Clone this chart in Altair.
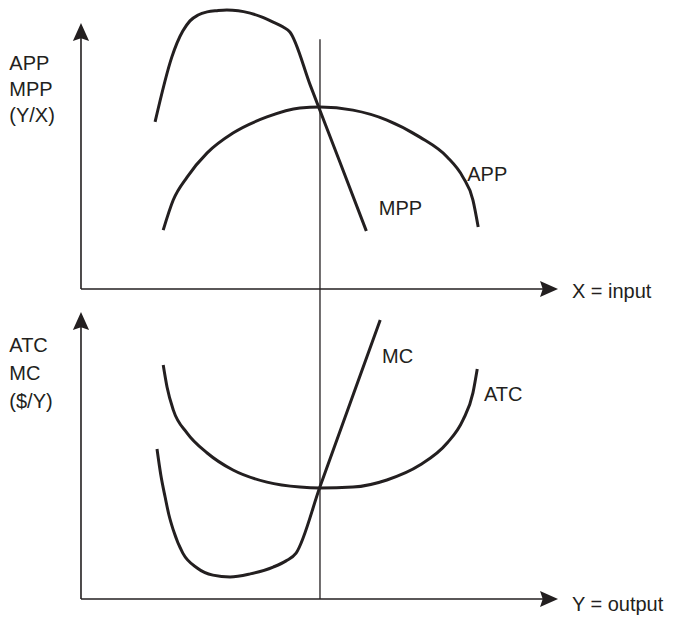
import altair as alt
import pandas as pd

# ---- top panel (input side), in panel units: x = input, y = Y/X ----
app_x = [1.72, 1.93, 2.22, 2.64, 3.18, 3.89, 4.58, 5.00, 5.69, 6.40, 7.09, 7.66, 7.99, 8.20, 8.31]
app_y = [1.90, 2.87, 3.61, 4.39, 5.03, 5.55, 5.84, 5.87, 5.77, 5.45, 4.90, 4.26, 3.61, 2.87, 2.00]
mpp_x = [1.55, 1.90, 2.01, 2.13, 2.28, 2.45, 2.64, 2.85, 3.05, 3.29, 3.54, 3.79, 4.02, 4.23, 4.37, 4.80, 5.40, 5.97]
mpp_y = [5.39, 7.48, 7.94, 8.32, 8.65, 8.84, 8.94, 8.98, 9.00, 8.98, 8.90, 8.77, 8.61, 8.45, 8.29, 6.56, 4.16, 1.87]

# ---- bottom panel (output side), in panel units: x = output, y = $/Y ----
atc_x = [1.72, 1.80, 1.93, 2.22, 2.64, 3.18, 3.89, 4.58, 5.00, 5.69, 6.40, 7.09, 7.66, 7.99, 8.20, 8.29]
atc_y = [7.55, 6.84, 6.10, 5.35, 4.71, 4.16, 3.77, 3.61, 3.58, 3.61, 3.84, 4.32, 5.03, 5.77, 6.65, 7.42]
mc_x = [1.59, 1.67, 1.76, 1.84, 1.93, 2.13, 2.43, 2.76, 3.12, 3.54, 4.02, 4.29, 4.50, 5.00, 5.70, 6.26]
mc_y = [4.84, 4.00, 3.29, 2.71, 2.23, 1.48, 1.00, 0.77, 0.71, 0.81, 1.03, 1.23, 1.48, 3.62, 6.61, 9.00]

# panel offsets (top panel sits above the bottom one)
panel_offset = {"top": 10.0, "bottom": 0.0}

# axis extents per panel: (y-arrow tip, x-arrow tip)
axis_panels = ["top", "bottom"]
y_arrow_tip = [8.58, 9.26]
x_arrow_tip = [9.98, 9.98]

# optimum point: vertical guide
guide_x = 5.0
guide_top = 8.06  # in top-panel units

# y-axis titles
ytitle_top = ["APP", "MPP", "(Y/X)"]
ytitle_top_y = [7.26, 6.42, 5.58]
ytitle_bot = ["ATC", "MC", "($/Y)"]
ytitle_bot_y = [8.16, 7.26, 6.35]
ytitle_x = -1.50

# curve / axis labels: text, x, y, panel
lab_text = ["APP", "MPP", "MC", "ATC", "X = input", "Y = output"]
lab_x = [8.08, 6.23, 6.30, 8.43, 10.27, 10.27]
lab_y = [3.68, 2.58, 7.81, 6.58, -0.10, -0.20]
lab_panel = ["top", "top", "bottom", "bottom", "top", "bottom"]

INK = "#231f20"
FONT = "Liberation Sans"
FS = 20

# ---------------- build tables ----------------
rows = []
for name, xs_, ys_, p in [("APP", app_x, app_y, "top"), ("MPP", mpp_x, mpp_y, "top"),
                         ("ATC", atc_x, atc_y, "bottom"), ("MC", mc_x, mc_y, "bottom")]:
    for i, (a, b) in enumerate(zip(xs_, ys_)):
        rows.append({"curve": name, "i": i, "x": a, "y": b + panel_offset[p]})
curves = pd.DataFrame(rows)

ax_rows, arrow_rows = [], []
for p, yt, xt in zip(axis_panels, y_arrow_tip, x_arrow_tip):
    o = panel_offset[p]
    ax_rows.append({"x": 0, "y": o, "x2": 0, "y2": o + yt - 0.3})
    ax_rows.append({"x": 0, "y": o, "x2": xt - 0.2, "y2": o})
    arrow_rows.append({"x": 0, "y": o + yt, "angle": 0})
    arrow_rows.append({"x": xt, "y": o, "angle": 90})
axes_df = pd.DataFrame(ax_rows)
arrows_df = pd.DataFrame(arrow_rows)

guide_df = pd.DataFrame([{"x": guide_x, "y": 0.0, "x2": guide_x, "y2": guide_top + panel_offset["top"]}])

txt_rows = []
for t, yy in zip(ytitle_top, ytitle_top_y):
    txt_rows.append({"t": t, "x": ytitle_x, "y": yy + panel_offset["top"]})
for t, yy in zip(ytitle_bot, ytitle_bot_y):
    txt_rows.append({"t": t, "x": ytitle_x, "y": yy + panel_offset["bottom"]})
for t, xx, yy, p in zip(lab_text, lab_x, lab_y, lab_panel):
    txt_rows.append({"t": t, "x": xx, "y": yy + panel_offset[p]})
text_df = pd.DataFrame(txt_rows)

xs = alt.Scale(domain=[-1.527, 12.218], nice=False, zero=False)
ys = alt.Scale(domain=[-0.613, 19.065], nice=False, zero=False)

curve_layer = alt.Chart(curves).mark_line(
    strokeWidth=3, color=INK, strokeCap="butt", strokeJoin="round", interpolate="monotone"
).encode(
    x=alt.X("x:Q", scale=xs, axis=None),
    y=alt.Y("y:Q", scale=ys, axis=None),
    detail="curve:N",
    order="i:Q",
)

axes_layer = alt.Chart(axes_df).mark_rule(strokeWidth=1.6, color=INK).encode(
    x=alt.X("x:Q", scale=xs, axis=None), y=alt.Y("y:Q", scale=ys, axis=None),
    x2="x2:Q", y2="y2:Q",
)

guide_layer = alt.Chart(guide_df).mark_rule(strokeWidth=1.3, color=INK).encode(
    x=alt.X("x:Q", scale=xs, axis=None), y=alt.Y("y:Q", scale=ys, axis=None),
    x2="x2:Q", y2="y2:Q",
)

arrow_layer = alt.Chart(arrows_df).mark_point(
    shape="M0,0 L0.45,1 L0,0.85 L-0.45,1 Z", filled=True, size=1296, opacity=1, color=INK
).encode(
    x=alt.X("x:Q", scale=xs, axis=None), y=alt.Y("y:Q", scale=ys, axis=None),
    angle=alt.Angle("angle:Q", scale=None),
)

text_layer = alt.Chart(text_df).mark_text(
    align="left", baseline="middle", font=FONT, fontSize=FS, color=INK
).encode(
    x=alt.X("x:Q", scale=xs, axis=None), y=alt.Y("y:Q", scale=ys, axis=None),
    text="t:N",
)

chart = alt.layer(guide_layer, axes_layer, curve_layer, arrow_layer, text_layer).properties(
    width=657, height=610, padding=0,
    autosize=alt.AutoSizeParams(type="none"),
    background="white",
).configure_view(stroke=None)

chart.save("out.html", embed_options={"renderer": "svg", "actions": False})
